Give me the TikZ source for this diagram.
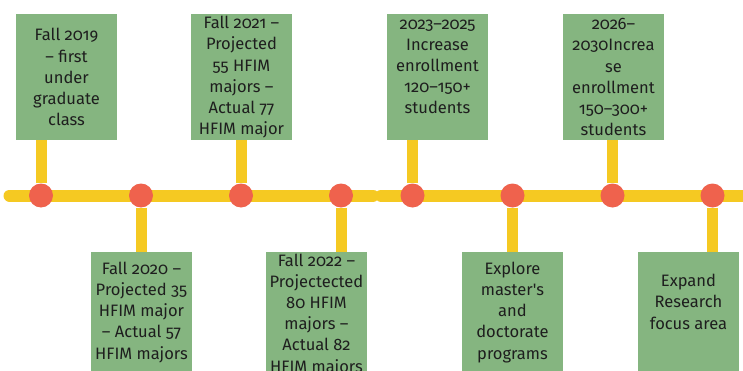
\documentclass[tikz,border=0pt]{standalone}
\usepackage{fontspec}
\setmainfont{Fira Sans}[Numbers=OldStyle]
\usetikzlibrary{backgrounds}
\definecolor{boxgreen}{RGB}{133,181,128}
\definecolor{lineyellow}{RGB}{245,201,34}
\definecolor{dotred}{RGB}{239,98,77}
\definecolor{textgray}{RGB}{30,30,30}
\begin{document}
\begin{tikzpicture}[x=0.75pt,y=-0.75pt,
        event/.style={fill=boxgreen,minimum width=75.75pt,inner xsep=0pt,inner ysep=1pt,
            align=center,text=textgray,font=\fontsize{12.4}{15.9}\selectfont,anchor=north},
        up/.style={event,minimum height=94.5pt},
        down/.style={event,minimum height=90pt},
        dot/.style={circle,fill=dotred,minimum size=18pt,inner sep=0pt},
        track/.style={lineyellow,line width=9pt,line cap=round},
        stem/.style={lineyellow,line width=8.25pt}]
            \useasboundingbox (0,0) rectangle (743,371);
            \foreach \x [count=\i] in {41,141,241,341,412.5,512.5,612.5,712.5}
                \node[dot] (d\i) at (\x,195.5) {};
            \node[up] (e1) at (66.5,14) {Fall 2019\\– first\\under\\graduate\\class};
            \node[down] (e2) at (141.5,252) {Fall 2020 –\\Projected 35\\HFIM major\\– Actual 57\\HFIM majors};
            \node[up] (e3) at (241.5,14) {Fall 2021 –\\Projected\\55 HFIM\\majors –\\Actual 77\\HFIM major};
            \node[down] (e4) at (316.5,252) {Fall 2022 –\\Projectected\\80 HFIM\\majors –\\Actual 82\\HFIM majors};
            \node[up] (e5) at (437.5,14) {2023–2025\\Increase\\enrollment\\120–150+\\students\\\mbox{}};
            \node[down] (e6) at (512.5,252) {Explore\\master\textquotesingle s\\and\\doctorate\\programs};
            \node[up] (e7) at (613.5,14) {2026–\\2030Increa\\se\\enrollment\\150–300+\\students};
            \node[down] (e8) at (688.5,252) {Expand\\Research\\focus area\\\mbox{}};
            \coordinate (start) at (9.5,195.5);
            \coordinate (gapl) at (373,195.5);
            \coordinate (gapr) at (381,195.5);
            \coordinate (end) at (760,195.5);
            \begin{pgfonlayer}{background}
                \draw[track] (start) -- (gapl);
                \draw[track] (gapr) -- (end);
                \foreach \i in {1,...,8}
                    \draw[stem] (d\i) -- (d\i |- e\i.center);
            \end{pgfonlayer}
        \end{tikzpicture}
\end{document}
